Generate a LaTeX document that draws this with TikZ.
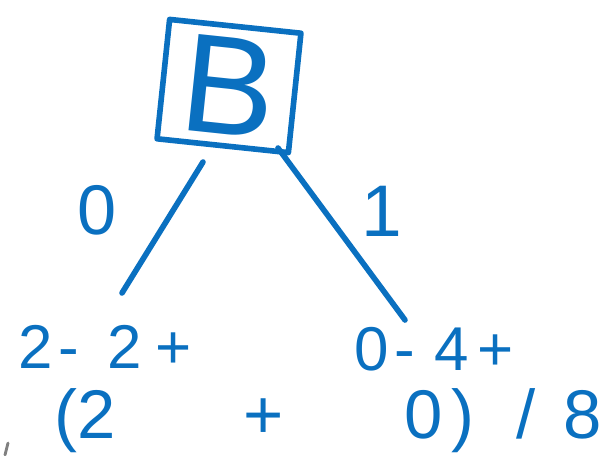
\documentclass[tikz,border=0pt]{standalone}
\usepackage{fontspec}
\setmainfont{Liberation Sans}
\usepackage{xcolor}
\usetikzlibrary{positioning}
\definecolor{inkblue}{HTML}{0A70C0}
\tikzset{
  ink/.style={draw=inkblue, line width=4pt, line cap=round, line join=round},
  hand/.style={text=inkblue, inner sep=0pt},
}
\begin{document}
\begin{tikzpicture}[x=0.025cm, y=-0.025cm]
                \useasboundingbox (0,0) rectangle (603,455);
                % root box
                \node[ink, hand, rotate=-6, minimum width=3.3cm, minimum height=3.0cm,
                      font=\fontsize{100}{100}\selectfont] (root) at (229,86) {B};
                % branch ends
                \coordinate (lfoot) at (122,293);
                \coordinate (rfoot) at (405,320);
                \draw[ink] (203,162) -- (lfoot);
                \draw[ink] (278,148) -- (rfoot);
                \node[hand, font=\fontsize{50}{50}\selectfont] (zero) at (97,210) {0};
                \node[hand, font=\fontsize{52}{52}\selectfont] (one) at (382,211) {1};
                % leaf counts
                \node[hand, anchor=west, font=\fontsize{44}{44}\selectfont] (lleaf) at (18,347)
                      {2\hspace{4pt}-\hspace{20pt}2\hspace{10pt}+};
                \node[hand, anchor=west, font=\fontsize{44}{44}\selectfont] (rleaf) at (354,349)
                      {0\hspace{4pt}-\hspace{14pt}4\hspace{6pt}+};
                \node[hand, anchor=west, font=\fontsize{49}{49}\selectfont] (ratio) at (54,421)
                      {(2\hspace{91pt}+\hspace{86pt}0\hspace{6pt})\hspace{30pt}/\hspace{20pt}8};
                \draw[gray, line width=2pt, line cap=round] (8,443) -- (5,455);
            \end{tikzpicture}
\end{document}
